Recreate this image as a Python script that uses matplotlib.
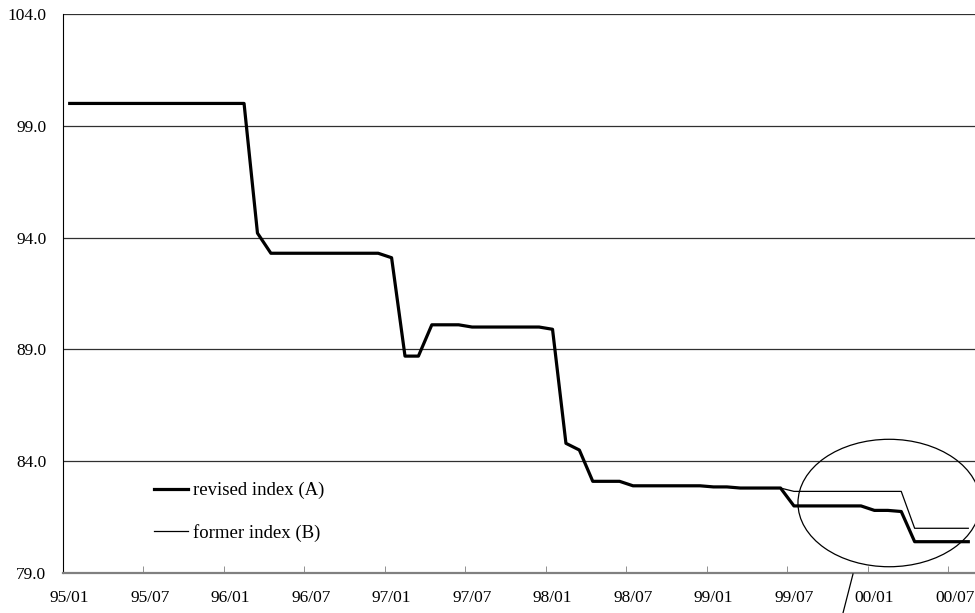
import matplotlib
matplotlib.use('Agg')
import matplotlib.pyplot as plt
import numpy as np
from matplotlib.patches import Ellipse
from matplotlib.lines import Line2D

plt.rcParams['font.family'] = ['Liberation Serif', 'DejaVu Serif']

# monthly values, 95/01 .. 00/08
revised = ([100.0] * 14 + [94.2] + [93.3] * 9 + [93.1] + [88.7] * 2 + [90.1] * 3
           + [90.0] * 6 + [89.9, 84.8, 84.5] + [83.1] * 3 + [82.9] * 6
           + [82.85] * 2 + [82.8] * 4 + [82.0] * 6 + [81.8, 81.8, 81.75] + [80.4] * 5)
former = revised[:54] + [82.65] * 9 + [81.0] * 5
tick_labels = ['95/01', '95/07', '96/01', '96/07', '97/01', '97/07',
               '98/01', '98/07', '99/01', '99/07', '00/01', '00/07']
y_ticks = [79.0, 84.0, 89.0, 94.0, 99.0, 104.0]


def main():
    months = np.arange(len(revised))
    fig = plt.figure(figsize=(9.75, 6.13), dpi=100)
    ax = fig.add_axes([63 / 975, 40 / 613, 912 / 975, 559 / 613])

    ax.plot(months, revised, color='black', lw=2.3, label='revised index (A)', zorder=3)
    ax.plot(months, former, color='black', lw=0.9, label='former index (B)', zorder=2)

    ax.set_xlim(-0.5, len(revised) - 0.5)
    ax.set_ylim(79, 104)
    ax.set_yticks(y_ticks)
    ax.set_yticklabels(['%.1f' % v for v in y_ticks], fontsize=12.5)
    ax.set_xticks(np.arange(0, len(revised), 6))
    ax.set_xticklabels(tick_labels, fontsize=12.5)
    ax.set_xticks(np.arange(5.5, len(revised), 6), minor=True)
    ax.tick_params(axis='x', which='major', length=0, pad=12)
    ax.tick_params(axis='x', which='minor', direction='in', length=5, color='#808080')
    ax.tick_params(axis='y', length=0, pad=12)

    ax.yaxis.grid(True, color='#303030', lw=0.9)
    ax.set_axisbelow(True)
    ax.spines['right'].set_visible(False)
    ax.spines['top'].set_visible(False)
    ax.spines['left'].set_color('black')
    ax.spines['bottom'].set_color('#808080')
    ax.spines['bottom'].set_linewidth(1.6)

    ax.legend(loc='upper left', bbox_to_anchor=(0.081, 0.193), frameon=False,
              fontsize=13.5, handlelength=1.85, handletextpad=0.25, labelspacing=1.3)

    # highlight circle and pointer
    ax.add_patch(Ellipse((61.1, 82.13), 13.6, 5.7, fill=False, ec='black', lw=0.9,
                         clip_on=False, zorder=4))
    fig.add_artist(Line2D([853 / 975, 843 / 975], [1 - 574 / 613, 0.0],
                          color='black', lw=0.9))

    fig.savefig('out.png', dpi=100)


if __name__ == "__main__":
    main()
